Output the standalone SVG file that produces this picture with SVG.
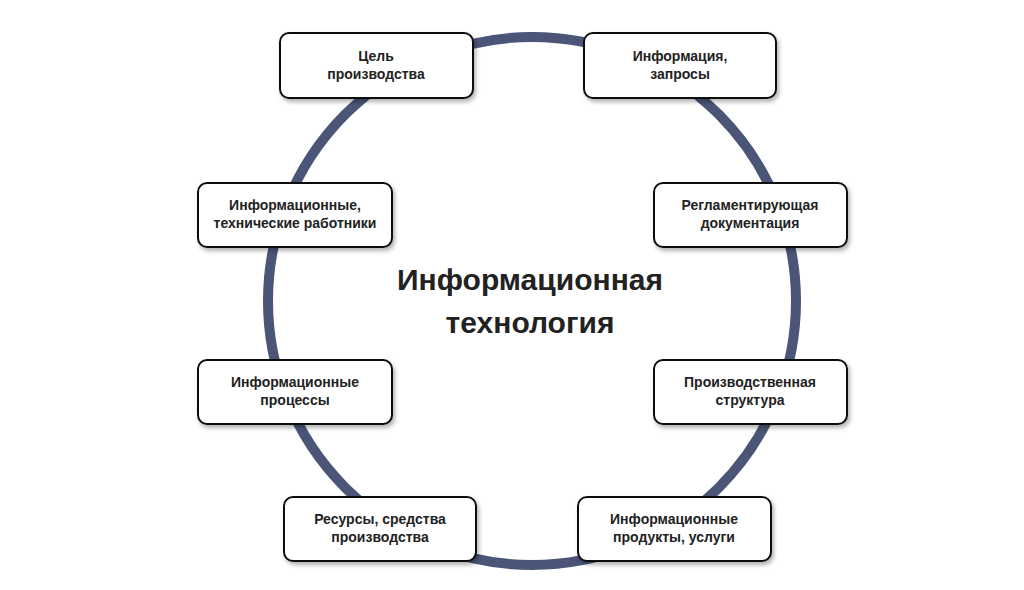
<svg xmlns="http://www.w3.org/2000/svg" width="1024" height="590" viewBox="0 0 1024 590">
<style>
.b rect{fill:#fff;stroke:#111;stroke-width:2}
.b text{font-family:"Liberation Sans",Arial,sans-serif;font-weight:bold;font-size:14px;fill:#222;text-anchor:middle}
.t{font-family:"Liberation Sans",Arial,sans-serif;font-weight:bold;font-size:30px;fill:#222;text-anchor:middle}
</style>
<defs><filter id="s" x="-10%" y="-10%" width="130%" height="140%"><feDropShadow dx="2" dy="3" stdDeviation="2" flood-color="#000" flood-opacity="0.3"/></filter></defs>
<rect width="1024" height="590" fill="#fff"/>
<g id="connectors"><circle cx="532" cy="301" r="264" fill="none" stroke="#4a5577" stroke-width="10"/></g>
<text class="t" x="530" y="290">Информационная</text>
<text class="t" x="530" y="333">технология</text>
<g id="n1" class="b"><rect x="280" y="33" width="193" height="65" rx="9" filter="url(#s)"/><text x="376" y="61">Цель</text><text x="376" y="79">производства</text></g>
<g id="n2" class="b"><rect x="584" y="33" width="192" height="65" rx="9" filter="url(#s)"/><text x="680" y="61">Информация,</text><text x="680" y="79">запросы</text></g>
<g id="n3" class="b"><rect x="198" y="183" width="194" height="64" rx="9" filter="url(#s)"/><text x="295" y="210">Информационные,</text><text x="295" y="228">технические работники</text></g>
<g id="n4" class="b"><rect x="654" y="183" width="193" height="64" rx="9" filter="url(#s)"/><text x="750" y="210">Регламентирующая</text><text x="750" y="228">документация</text></g>
<g id="n5" class="b"><rect x="198" y="360" width="194" height="64" rx="9" filter="url(#s)"/><text x="295" y="387">Информационные</text><text x="295" y="405">процессы</text></g>
<g id="n6" class="b"><rect x="654" y="360" width="193" height="64" rx="9" filter="url(#s)"/><text x="750" y="387">Производственная</text><text x="750" y="405">структура</text></g>
<g id="n7" class="b"><rect x="284" y="497" width="192" height="64" rx="9" filter="url(#s)"/><text x="380" y="524">Ресурсы, средства</text><text x="380" y="542">производства</text></g>
<g id="n8" class="b"><rect x="578" y="497" width="193" height="64" rx="9" filter="url(#s)"/><text x="674" y="524">Информационные</text><text x="674" y="542">продукты, услуги</text></g>
</svg>
